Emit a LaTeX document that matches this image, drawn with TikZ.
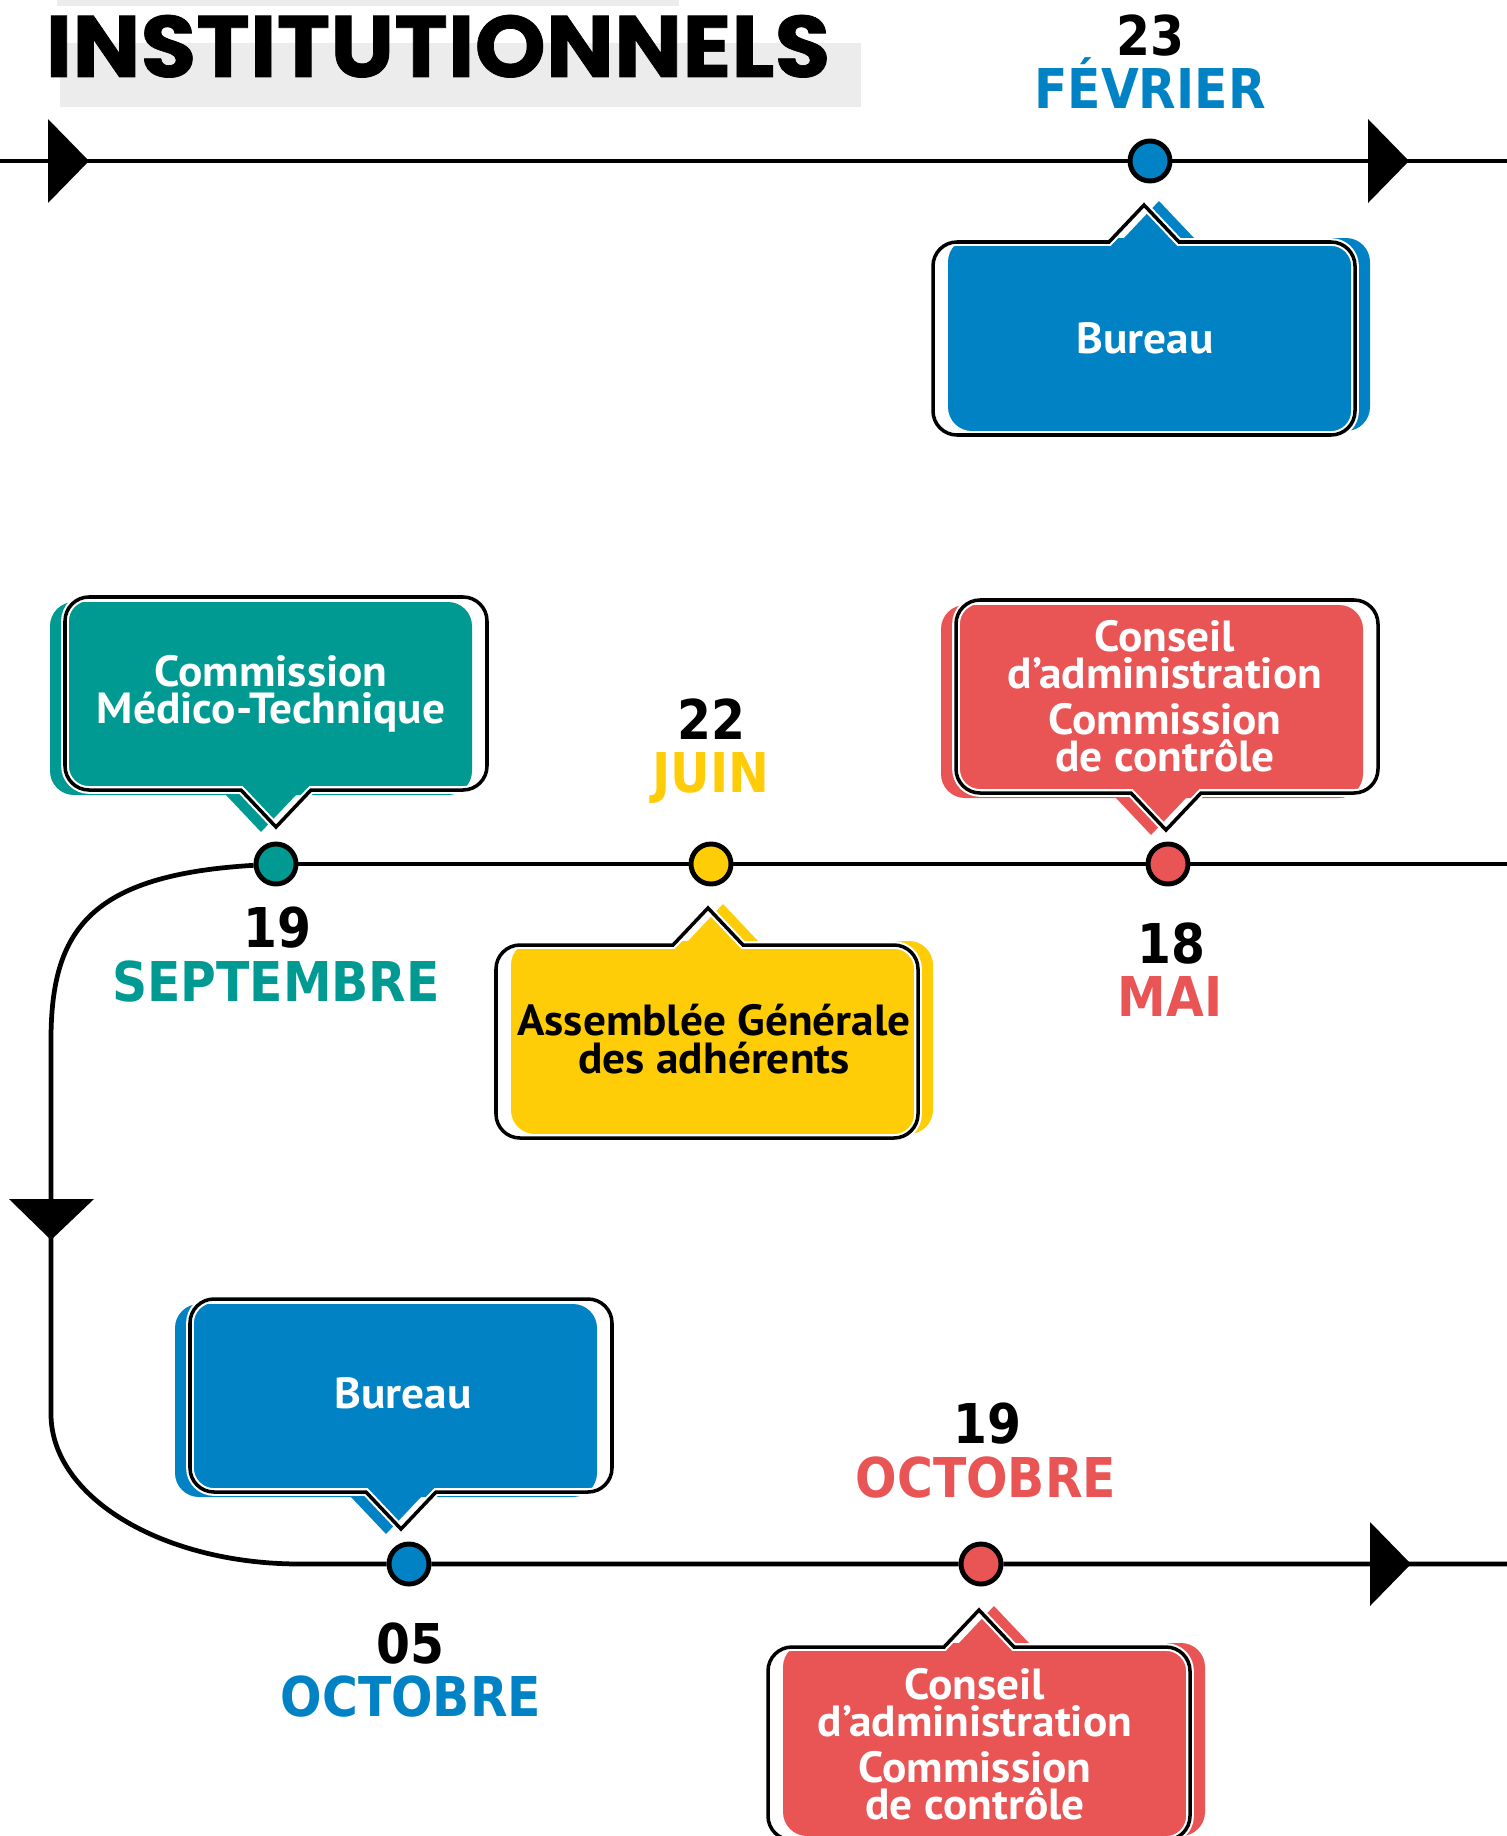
\documentclass[tikz,border=0pt]{standalone}
\usepackage{fontspec}
\setmainfont{PT Sans}[FakeStretch=1.04]
\newfontfamily\titlefont{Poppins}[FakeStretch=1.04, FakeBold=0.8]
\newfontfamily\datefont{DejaVu Sans}[FakeStretch=0.89]

\definecolor{cblue}{RGB}{0,130,196}
\definecolor{cteal}{RGB}{0,154,147}
\definecolor{cyellow}{RGB}{255,204,8}
\definecolor{cred}{RGB}{233,84,85}
\definecolor{cgrey}{RGB}{235,236,235}

\newcommand\bubr{0.24cm}
% speech bubble, pointer on the top edge: left x, top y, pointer tip x
\newcommand\bubup[3]{({#1},{#2+96}) [rounded corners=\bubr] -- ({#1},{#2}) -- ({(#1+#3-35)/2},{#2}) [sharp corners] -- ({#3-35},{#2}) -- ({#3},{#2-37}) -- ({#3+35},{#2}) -- ({(#3+35+#1+422)/2},{#2}) [rounded corners=\bubr] -- ({#1+422},{#2}) -- ({#1+422},{#2+193}) -- ({#1},{#2+193}) -- cycle}
% speech bubble, pointer on the bottom edge: left x, top y, pointer tip x
\newcommand\bubdown[3]{({#1},{#2+96}) [rounded corners=\bubr] -- ({#1},{#2}) -- ({#1+422},{#2}) -- ({#1+422},{#2+193}) -- ({(#3+35+#1+422)/2},{#2+193}) [sharp corners] -- ({#3+35},{#2+193}) -- ({#3},{#2+230}) -- ({#3-35},{#2+193}) -- ({(#1+#3-35)/2},{#2+193}) [rounded corners=\bubr] -- ({#1},{#2+193}) -- cycle}

\begin{document}
\begin{tikzpicture}[x=0.01cm, y=-0.01cm,
  timeline/.style={line width=1.35pt, black},
  dot/.style={circle, draw=black, line width=1.4pt, minimum size=0.4cm, inner sep=0pt},
  halo/.style={white, line width=2.2pt},
  outline/.style={black, line width=1pt},
  bubtext/.style={font=\fontsize{12.4}{10.6}\selectfont\bfseries, align=center, inner sep=0pt},
  daynum/.style={font=\datefont\fontsize{15.6}{15}\selectfont\bfseries, anchor=base, inner sep=0pt},
  month/.style={font=\datefont\fontsize{15.6}{15}\selectfont\bfseries, anchor=base, inner sep=0pt},
  arrowtip/.style={fill=black}]
\useasboundingbox (0,0) rectangle (1507,1836);

% heading
\fill[cgrey] (57,0) rectangle (679,6);
\fill[cgrey] (60,43) rectangle (861,107);
\node[font=\titlefont\fontsize{24.8}{25}\selectfont\bfseries, anchor=base, inner sep=0pt] (title) at (438,77) {INSTITUTIONNELS};

% milestones
\node[dot, fill=cblue]   (feb)   at (1150,161) {};
\node[dot, fill=cteal]   (sep)   at (276,864)  {};
\node[dot, fill=cyellow] (jun)   at (711,864)  {};
\node[dot, fill=cred]    (may)   at (1168,864) {};
\node[dot, fill=cblue]   (oct5)  at (409,1564) {};
\node[dot, fill=cred]    (oct19) at (981,1564) {};

\coordinate (tl) at (0,161);
\coordinate (tr) at (1507,161);
\coordinate (mr) at (1507,864);
\coordinate (c1) at (51,1040);
\coordinate (c2) at (51,1414);
\coordinate (c3) at (300,1564);
\coordinate (br) at (1507,1564);

% time lines
\draw[timeline] (tl) -- (feb) -- (tr);
\draw[timeline] (sep) -- (jun) -- (may) -- (mr);
\draw[timeline] (sep) .. controls (90,875) and (51,930) .. (c1) -- (c2)
  .. controls (51,1497) and (162,1564) .. (c3) -- (oct5) -- (oct19) -- (br);

% direction marks
\fill[arrowtip] (48,119) -- (89,161) -- (48,203) -- cycle;
\fill[arrowtip] (1368,119) -- (1409,161) -- (1368,203) -- cycle;
\fill[arrowtip] (1370,1522) -- (1411,1564) -- (1370,1606) -- cycle;
\fill[arrowtip] (9,1199) -- (94,1199) -- (51,1240) -- cycle;

% dates
\node[daynum] (n23) at (1150,55) {23};
\node[month, text=cblue] (m23) at (1150,108) {FÉVRIER};
\node[daynum] (n22) at (711,739) {22};
\node[month, text=cyellow] (m22) at (711,792) {JUIN};
\node[daynum] (n19s) at (277,947) {19};
\node[month, text=cteal] (m19s) at (276,1001) {SEPTEMBRE};
\node[daynum] (n18) at (1171,963) {18};
\node[month, text=cred] (m18) at (1170,1016) {MAI};
\node[daynum] (n05) at (410,1663) {05};
\node[month, text=cblue] (m05) at (411,1716) {OCTOBRE};
\node[daynum] (n19o) at (987,1443) {19};
\node[month, text=cred] (m19o) at (986,1497) {OCTOBRE};

% bubble: Bureau (February)
\begin{scope}[shift={(15,-4)}]\fill[cblue] \bubup{933}{242}{1144};\end{scope}
\draw[halo] \bubup{933}{242}{1144};
\draw[outline] \bubup{933}{242}{1144};
\node[bubtext, text=white] (bur1) at (1145,338) {Bureau};

% bubble: Commission Médico-Technique
\begin{scope}[shift={(-15,5)}]\fill[cteal] \bubdown{65}{597}{276};\end{scope}
\draw[halo] \bubdown{65}{597}{276};
\draw[outline] \bubdown{65}{597}{276};
\node[bubtext, text=white] (cmt) at (271,694) {Commission\\Médico-Technique};

% bubble: Conseil (May)
\begin{scope}[shift={(-15,5)}]\fill[cred] \bubdown{956}{600}{1166};\end{scope}
\draw[halo] \bubdown{956}{600}{1166};
\draw[outline] \bubdown{956}{600}{1166};
\node[bubtext, text=white] (ca1) at (1165,696) {Conseil\\d’administration\\[2.4pt]Commission\\de contrôle};

% bubble: Assemblée Générale
\begin{scope}[shift={(15,-4)}]\fill[cyellow] \bubup{496}{945}{708};\end{scope}
\draw[halo] \bubup{496}{945}{708};
\draw[outline] \bubup{496}{945}{708};
\node[bubtext, text=black] (ag) at (714,1039) {Assemblée Générale\\des adhérents};

% bubble: Bureau (October)
\begin{scope}[shift={(-15,5)}]\fill[cblue] \bubdown{190}{1299}{401};\end{scope}
\draw[halo] \bubdown{190}{1299}{401};
\draw[outline] \bubdown{190}{1299}{401};
\node[bubtext, text=white] (bur2) at (403,1393) {Bureau};

% bubble: Conseil (October)
\begin{scope}[shift={(15,-4)}]\fill[cred] \bubup{768}{1647}{979};\end{scope}
\draw[halo] \bubup{768}{1647}{979};
\draw[outline] \bubup{768}{1647}{979};
\node[bubtext, text=white] (ca2) at (975,1744) {Conseil\\d’administration\\[2.4pt]Commission\\de contrôle};
\end{tikzpicture}
\end{document}
